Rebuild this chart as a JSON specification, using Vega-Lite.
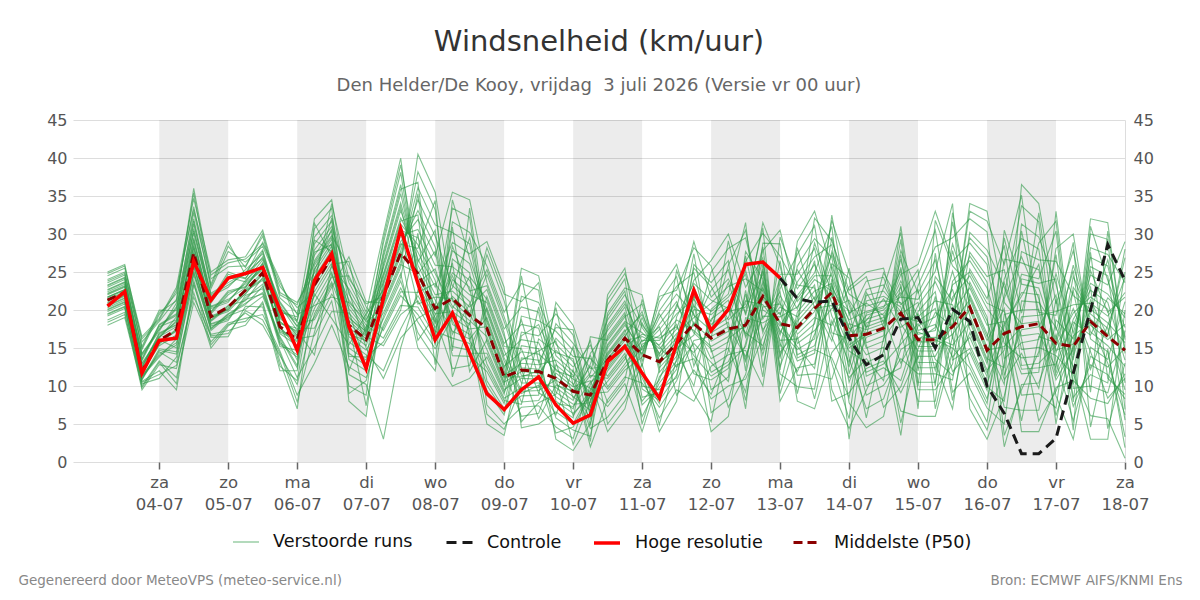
{
  "$schema": "https://vega.github.io/schema/vega-lite/v6.json",
  "width": 1052,
  "height": 342,
  "autosize": "none",
  "padding": {"left": 73, "top": 120, "right": 75, "bottom": 138},
  "background": "white",
  "title": {
    "text": "Windsnelheid (km/uur)",
    "subtitle": "Den Helder/De Kooy, vrijdag \u00a03 juli 2026 (Versie vr 00 uur)",
    "anchor": "middle",
    "font": "DejaVu Sans",
    "fontSize": 29,
    "fontWeight": "normal",
    "color": "#333333",
    "subtitleFont": "DejaVu Sans",
    "subtitleFontSize": 18,
    "subtitleColor": "#666666",
    "subtitlePadding": 20,
    "offset": 17
  },
  "config": {
    "view": {"stroke": null},
    "font": "DejaVu Sans",
    "legend": {
      "symbolType": "stroke",
      "symbolSize": 676,
      "labelFontSize": 17.6,
      "labelColor": "#111111",
      "labelFont": "DejaVu Sans",
      "labelOffset": 13,
      "padding": 0,
      "labelLimit": 400
    }
  },
  "datasets": {
    "banden": [
      {"van": "2026-07-04T00:00:00Z", "tot": "2026-07-05T00:00:00Z"},
      {"van": "2026-07-06T00:00:00Z", "tot": "2026-07-07T00:00:00Z"},
      {"van": "2026-07-08T00:00:00Z", "tot": "2026-07-09T00:00:00Z"},
      {"van": "2026-07-10T00:00:00Z", "tot": "2026-07-11T00:00:00Z"},
      {"van": "2026-07-12T00:00:00Z", "tot": "2026-07-13T00:00:00Z"},
      {"van": "2026-07-14T00:00:00Z", "tot": "2026-07-15T00:00:00Z"},
      {"van": "2026-07-16T00:00:00Z", "tot": "2026-07-17T00:00:00Z"}
    ],
    "runs": [
      {"t":"2026-07-03T06:00:00Z","hres":20.5,"p50":21.3,"m1":18.0,"m2":18.7,"m3":19.2,"m4":19.5,"m5":19.8,"m6":20.1,"m7":20.3,"m8":20.6,"m9":20.8,"m10":21.0,"m11":21.2,"m12":21.4,"m13":21.6,"m14":21.7,"m15":22.0,"m16":22.2,"m17":22.4,"m18":22.7,"m19":23.0,"m20":23.3,"m21":23.6,"m22":24.0,"m23":24.5,"m24":25.0,"m25":18.4,"m26":19.4,"m27":20.0,"m28":20.5,"m29":20.9,"m30":21.3,"m31":21.7,"m32":22.1,"m33":22.6,"m34":23.2,"m35":23.8,"m36":24.8},
      {"t":"2026-07-03T12:00:00Z","hres":22.4,"p50":22.3,"m1":19.0,"m2":19.7,"m3":20.2,"m4":20.5,"m5":20.8,"m6":21.1,"m7":21.3,"m8":21.6,"m9":21.8,"m10":22.0,"m11":22.2,"m12":22.4,"m13":22.6,"m14":22.7,"m15":23.0,"m16":23.2,"m17":23.4,"m18":23.7,"m19":24.0,"m20":24.3,"m21":24.6,"m22":25.0,"m23":25.5,"m24":26.0,"m25":19.4,"m26":20.4,"m27":21.0,"m28":21.5,"m29":21.9,"m30":22.3,"m31":22.7,"m32":23.1,"m33":23.6,"m34":24.2,"m35":24.8,"m36":25.8},
      {"t":"2026-07-03T18:00:00Z","hres":11.7,"p50":11.9,"m1":10.0,"m2":9.5,"m3":10.6,"m4":10.3,"m5":11.0,"m6":10.8,"m7":11.4,"m8":11.2,"m9":11.7,"m10":11.5,"m11":12.0,"m12":11.8,"m13":12.5,"m14":12.2,"m15":13.0,"m16":12.7,"m17":13.6,"m18":13.3,"m19":14.3,"m20":14.0,"m21":15.2,"m22":14.8,"m23":16.5,"m24":15.8,"m25":10.5,"m26":9.8,"m27":11.3,"m28":10.9,"m29":11.9,"m30":11.6,"m31":12.9,"m32":12.4,"m33":14.2,"m34":13.5,"m35":16.2,"m36":15.0},
      {"t":"2026-07-04T00:00:00Z","hres":16.0,"p50":16.0,"m1":13.3,"m2":12.8,"m3":12.0,"m4":11.0,"m5":14.9,"m6":14.5,"m7":14.2,"m8":13.8,"m9":16.1,"m10":15.9,"m11":15.6,"m12":15.3,"m13":17.0,"m14":16.7,"m15":16.5,"m16":16.3,"m17":18.1,"m18":17.8,"m19":17.5,"m20":17.2,"m21":20.0,"m22":19.4,"m23":18.9,"m24":18.5,"m25":11.5,"m26":13.1,"m27":14.0,"m28":14.7,"m29":15.5,"m30":16.0,"m31":16.4,"m32":16.9,"m33":17.4,"m34":18.0,"m35":18.7,"m36":19.7},
      {"t":"2026-07-04T06:00:00Z","hres":16.3,"p50":17.4,"m1":11.1,"m2":12.3,"m3":9.5,"m4":13.8,"m5":14.5,"m6":13.1,"m7":15.7,"m8":16.2,"m9":15.0,"m10":17.2,"m11":17.5,"m12":16.7,"m13":18.1,"m14":18.4,"m15":17.8,"m16":19.1,"m17":19.5,"m18":18.7,"m19":20.4,"m20":20.9,"m21":19.9,"m22":22.2,"m23":23.0,"m24":21.4,"m25":12.7,"m26":10.3,"m27":15.4,"m28":14.2,"m29":17.4,"m30":16.5,"m31":18.6,"m32":18.0,"m33":20.2,"m34":19.3,"m35":22.6,"m36":21.2},
      {"t":"2026-07-04T12:00:00Z","hres":26.4,"p50":27.5,"m1":21.0,"m2":22.3,"m3":23.3,"m4":23.9,"m5":24.6,"m6":25.1,"m7":25.6,"m8":26.1,"m9":26.5,"m10":26.9,"m11":27.3,"m12":27.7,"m13":28.1,"m14":28.5,"m15":29.0,"m16":29.5,"m17":30.1,"m18":30.7,"m19":31.3,"m20":32.0,"m21":32.8,"m22":33.6,"m23":34.7,"m24":36.0,"m25":21.7,"m26":23.6,"m27":24.9,"m28":25.9,"m29":26.7,"m30":27.5,"m31":28.3,"m32":29.3,"m33":30.4,"m34":31.7,"m35":33.2,"m36":35.4},
      {"t":"2026-07-04T18:00:00Z","hres":21.3,"p50":19.1,"m1":15.8,"m2":15.0,"m3":16.8,"m4":16.4,"m5":17.6,"m6":17.3,"m7":18.2,"m8":17.9,"m9":18.7,"m10":18.5,"m11":19.2,"m12":19.0,"m13":19.8,"m14":19.5,"m15":20.5,"m16":20.2,"m17":21.3,"m18":20.9,"m19":22.2,"m20":21.8,"m21":23.4,"m22":22.8,"m23":25.0,"m24":24.1,"m25":16.6,"m26":15.4,"m27":18.1,"m28":17.5,"m29":19.1,"m30":18.6,"m31":20.4,"m32":19.7,"m33":22.0,"m34":21.1,"m35":24.6,"m36":23.1},
      {"t":"2026-07-05T00:00:00Z","hres":24.2,"p50":20.4,"m1":18.3,"m2":17.9,"m3":17.3,"m4":16.5,"m5":19.5,"m6":19.2,"m7":19.0,"m8":18.6,"m9":20.6,"m10":20.3,"m11":20.1,"m12":19.8,"m13":22.5,"m14":22.0,"m15":21.4,"m16":21.0,"m17":25.0,"m18":24.3,"m19":23.6,"m20":23.0,"m21":29.0,"m22":27.7,"m23":26.6,"m24":25.7,"m25":16.9,"m26":18.1,"m27":18.8,"m28":19.4,"m29":20.0,"m30":20.5,"m31":21.2,"m32":22.3,"m33":23.3,"m34":24.7,"m35":26.2,"m36":28.4},
      {"t":"2026-07-05T06:00:00Z","hres":24.8,"p50":22.6,"m1":18.9,"m2":19.6,"m3":18.0,"m4":20.5,"m5":20.9,"m6":20.1,"m7":21.6,"m8":21.9,"m9":21.2,"m10":22.5,"m11":22.7,"m12":22.2,"m13":23.1,"m14":23.4,"m15":22.9,"m16":23.9,"m17":24.2,"m18":23.7,"m19":24.9,"m20":25.3,"m21":24.6,"m22":26.3,"m23":27.0,"m24":25.8,"m25":19.9,"m26":18.5,"m27":21.4,"m28":20.7,"m29":22.6,"m30":22.1,"m31":23.6,"m32":23.0,"m33":24.8,"m34":24.1,"m35":26.7,"m36":25.6},
      {"t":"2026-07-05T12:00:00Z","hres":25.6,"p50":24.9,"m1":19.4,"m2":18.0,"m3":21.1,"m4":20.4,"m5":22.3,"m6":21.8,"m7":23.4,"m8":22.8,"m9":24.3,"m10":23.9,"m11":25.0,"m12":24.7,"m13":25.6,"m14":25.3,"m15":26.2,"m16":25.9,"m17":27.0,"m18":26.6,"m19":27.9,"m20":27.4,"m21":28.9,"m22":28.4,"m23":30.5,"m24":29.7,"m25":18.7,"m26":20.8,"m27":22.1,"m28":23.1,"m29":24.1,"m30":24.9,"m31":25.5,"m32":26.1,"m33":26.8,"m34":27.7,"m35":28.7,"m36":30.1},
      {"t":"2026-07-05T18:00:00Z","hres":20.0,"p50":17.8,"m1":14.6,"m2":14.0,"m3":13.2,"m4":12.0,"m5":16.5,"m6":16.1,"m7":15.7,"m8":15.2,"m9":17.9,"m10":17.6,"m11":17.3,"m12":16.9,"m13":19.3,"m14":18.9,"m15":18.5,"m16":18.2,"m17":21.1,"m18":20.6,"m19":20.1,"m20":19.7,"m21":24.0,"m22":23.1,"m23":22.3,"m24":21.6,"m25":14.3,"m26":12.6,"m27":16.3,"m28":15.5,"m29":17.8,"m30":17.1,"m31":19.1,"m32":18.4,"m33":20.9,"m34":19.9,"m35":23.6,"m36":22.0},
      {"t":"2026-07-06T00:00:00Z","hres":14.7,"p50":16.1,"m1":8.8,"m2":10.2,"m3":7.0,"m4":12.0,"m5":12.7,"m6":11.1,"m7":14.1,"m8":14.7,"m9":13.4,"m10":15.8,"m11":16.2,"m12":15.3,"m13":16.7,"m14":17.0,"m15":16.4,"m16":17.6,"m17":17.9,"m18":17.3,"m19":18.7,"m20":19.1,"m21":18.3,"m22":20.3,"m23":21.0,"m24":19.6,"m25":7.9,"m26":10.7,"m27":12.4,"m28":13.8,"m29":15.0,"m30":16.0,"m31":16.6,"m32":17.2,"m33":17.8,"m34":18.5,"m35":19.4,"m36":20.7},
      {"t":"2026-07-06T06:00:00Z","hres":23.9,"p50":23.3,"m1":13.0,"m2":19.5,"m3":23.0,"m4":25.4,"m5":28.7,"m6":15.1,"m7":20.2,"m8":23.5,"m9":25.9,"m10":29.6,"m11":16.6,"m12":21.0,"m13":23.9,"m14":26.5,"m15":30.7,"m16":17.6,"m17":21.8,"m18":24.3,"m19":27.2,"m20":32.0,"m21":18.7,"m22":22.4,"m23":24.9,"m24":27.9,"m25":17.1,"m26":24.1,"m27":31.4,"m28":22.1,"m29":27.6,"m30":19.1,"m31":25.2,"m32":14.1,"m33":23.3,"m34":29.2,"m35":20.6,"m36":26.2},
      {"t":"2026-07-06T12:00:00Z","hres":27.4,"p50":27.0,"m1":18.0,"m2":23.7,"m3":26.7,"m4":28.8,"m5":31.7,"m6":19.8,"m7":24.3,"m8":27.2,"m9":29.3,"m10":32.4,"m11":21.2,"m12":25.0,"m13":27.5,"m14":29.8,"m15":33.4,"m16":22.1,"m17":25.7,"m18":27.9,"m19":30.4,"m20":34.5,"m21":23.0,"m22":26.2,"m23":28.4,"m24":31.0,"m25":24.7,"m26":32.1,"m27":27.0,"m28":18.9,"m29":28.6,"m30":23.4,"m31":30.7,"m32":26.0,"m33":34.0,"m34":27.7,"m35":21.7,"m36":29.6},
      {"t":"2026-07-06T18:00:00Z","hres":17.8,"p50":18.0,"m1":12.5,"m2":17.7,"m3":21.3,"m4":8.0,"m5":15.8,"m6":19.6,"m7":24.5,"m8":13.5,"m9":18.2,"m10":22.1,"m11":10.0,"m12":16.5,"m13":20.2,"m14":25.7,"m15":14.3,"m16":18.6,"m17":22.8,"m18":11.5,"m19":17.1,"m20":20.7,"m21":27.0,"m22":15.0,"m23":19.1,"m24":23.6,"m25":18.9,"m26":18.0,"m27":16.8,"m28":15.4,"m29":13.9,"m30":12.0,"m31":9.0,"m32":26.4,"m33":24.1,"m34":22.5,"m35":21.0,"m36":19.9},
      {"t":"2026-07-07T00:00:00Z","hres":12.3,"p50":16.1,"m1":11.1,"m2":15.8,"m3":18.0,"m4":6.0,"m5":14.1,"m6":17.0,"m7":19.7,"m8":12.0,"m9":16.2,"m10":18.4,"m11":8.8,"m12":14.7,"m13":17.3,"m14":20.4,"m15":12.7,"m16":16.5,"m17":18.8,"m18":10.2,"m19":15.3,"m20":17.6,"m21":21.1,"m22":13.4,"m23":16.7,"m24":19.2,"m25":17.2,"m26":7.4,"m27":16.0,"m28":19.5,"m29":13.8,"m30":17.8,"m31":10.7,"m32":16.6,"m33":20.8,"m34":15.0,"m35":18.6,"m36":12.4},
      {"t":"2026-07-07T06:00:00Z","hres":21.5,"p50":21.8,"m1":18.1,"m2":24.3,"m3":16.3,"m4":23.3,"m5":12.0,"m6":22.4,"m7":30.0,"m8":21.5,"m9":27.7,"m10":20.3,"m11":26.2,"m12":18.8,"m13":24.8,"m14":17.3,"m15":23.8,"m16":15.3,"m17":22.8,"m18":3.0,"m19":22.0,"m20":28.8,"m21":20.9,"m22":26.9,"m23":19.6,"m24":25.5,"m25":25.9,"m26":20.6,"m27":29.4,"m28":22.6,"m29":15.8,"m30":24.6,"m31":19.2,"m32":27.3,"m33":21.8,"m34":11.0,"m35":23.6,"m36":17.7},
      {"t":"2026-07-07T12:00:00Z","hres":30.7,"p50":27.5,"m1":22.9,"m2":31.3,"m3":20.6,"m4":29.8,"m5":17.5,"m6":28.4,"m7":40.0,"m8":27.1,"m9":36.5,"m10":25.6,"m11":34.1,"m12":23.8,"m13":32.1,"m14":21.9,"m15":30.5,"m16":19.4,"m17":29.0,"m18":15.0,"m19":27.8,"m20":38.1,"m21":26.4,"m22":35.3,"m23":24.8,"m24":33.1,"m25":33.6,"m26":26.0,"m27":39.1,"m28":28.7,"m29":20.0,"m30":31.7,"m31":24.3,"m32":35.9,"m33":27.5,"m34":16.3,"m35":30.2,"m36":22.4},
      {"t":"2026-07-07T18:00:00Z","hres":23.5,"p50":24.8,"m1":18.4,"m2":28.6,"m3":20.4,"m4":30.6,"m5":21.9,"m6":33.1,"m7":23.3,"m8":36.1,"m9":24.5,"m10":40.5,"m11":25.9,"m12":17.0,"m13":27.6,"m14":19.4,"m15":29.5,"m16":21.2,"m17":31.9,"m18":22.6,"m19":34.5,"m20":23.9,"m21":38.2,"m22":25.1,"m23":15.0,"m24":26.7,"m25":23.6,"m26":24.8,"m27":26.3,"m28":28.1,"m29":30.1,"m30":32.5,"m31":35.3,"m32":36.8,"m33":16.0,"m34":18.9,"m35":20.8,"m36":22.3},
      {"t":"2026-07-08T00:00:00Z","hres":16.1,"p50":20.2,"m1":14.9,"m2":23.9,"m3":16.5,"m4":25.9,"m5":17.7,"m6":28.3,"m7":19.0,"m8":31.2,"m9":20.0,"m10":35.5,"m11":21.3,"m12":13.6,"m13":23.0,"m14":15.7,"m15":24.8,"m16":17.2,"m17":27.1,"m18":18.4,"m19":29.7,"m20":19.5,"m21":33.2,"m22":20.5,"m23":12.0,"m24":22.0,"m25":25.4,"m26":27.7,"m27":30.5,"m28":34.4,"m29":12.8,"m30":15.3,"m31":16.9,"m32":18.1,"m33":19.3,"m34":20.3,"m35":21.7,"m36":23.5},
      {"t":"2026-07-08T06:00:00Z","hres":19.6,"p50":21.5,"m1":19.0,"m2":14.0,"m3":31.6,"m4":25.7,"m5":21.8,"m6":18.1,"m7":12.3,"m8":30.2,"m9":24.9,"m10":21.2,"m11":17.2,"m12":10.0,"m13":28.9,"m14":24.0,"m15":20.5,"m16":16.3,"m17":35.5,"m18":27.8,"m19":23.2,"m20":19.8,"m21":15.2,"m22":33.4,"m23":26.7,"m24":22.5,"m25":18.6,"m26":16.8,"m27":14.6,"m28":11.2,"m29":34.5,"m30":30.9,"m31":28.4,"m32":26.2,"m33":24.5,"m34":22.9,"m35":21.5,"m36":20.2},
      {"t":"2026-07-08T12:00:00Z","hres":14.3,"p50":19.3,"m1":17.5,"m2":13.9,"m3":30.2,"m4":23.9,"m5":19.6,"m6":16.8,"m7":12.7,"m8":28.7,"m9":23.0,"m10":19.1,"m11":16.2,"m12":11.0,"m13":27.4,"m14":22.0,"m15":18.6,"m16":15.6,"m17":34.5,"m18":26.1,"m19":21.1,"m20":18.1,"m21":14.7,"m22":32.2,"m23":24.9,"m24":20.4,"m25":14.3,"m26":20.8,"m27":33.4,"m28":18.4,"m29":26.8,"m30":15.9,"m31":22.5,"m32":11.9,"m33":19.4,"m34":29.5,"m35":17.2,"m36":24.4},
      {"t":"2026-07-08T18:00:00Z","hres":9.0,"p50":17.6,"m1":17.8,"m2":11.9,"m3":25.8,"m4":19.7,"m5":14.8,"m6":5.0,"m7":21.8,"m8":17.2,"m9":10.7,"m10":24.7,"m11":19.0,"m12":13.8,"m13":29.0,"m14":21.0,"m15":16.5,"m16":9.4,"m17":23.6,"m18":18.4,"m19":12.9,"m20":27.3,"m21":20.3,"m22":15.7,"m23":7.5,"m24":22.7,"m25":14.3,"m26":25.3,"m27":17.5,"m28":6.3,"m29":20.0,"m30":12.4,"m31":23.2,"m32":16.1,"m33":28.2,"m34":18.7,"m35":10.1,"m36":21.4},
      {"t":"2026-07-09T00:00:00Z","hres":6.9,"p50":11.2,"m1":11.4,"m2":7.7,"m3":19.7,"m4":13.3,"m5":9.5,"m6":3.5,"m7":15.6,"m8":11.0,"m9":7.0,"m10":18.5,"m11":12.6,"m12":8.9,"m13":23.0,"m14":14.7,"m15":10.5,"m16":6.2,"m17":17.5,"m18":12.0,"m19":8.4,"m20":21.2,"m21":14.0,"m22":10.0,"m23":5.0,"m24":16.5,"m25":9.2,"m26":19.1,"m27":11.2,"m28":4.3,"m29":13.7,"m30":8.1,"m31":17.0,"m32":10.3,"m33":22.1,"m34":12.3,"m35":6.6,"m36":15.2},
      {"t":"2026-07-09T06:00:00Z","hres":9.5,"p50":12.1,"m1":13.0,"m2":17.1,"m3":23.5,"m4":7.9,"m5":11.0,"m6":13.7,"m7":18.1,"m8":25.5,"m9":8.7,"m10":11.4,"m11":14.5,"m12":19.2,"m13":4.5,"m14":9.3,"m15":11.9,"m16":15.3,"m17":20.4,"m18":6.0,"m19":9.8,"m20":12.4,"m21":16.1,"m22":21.8,"m23":7.2,"m24":10.4,"m25":13.4,"m26":12.2,"m27":11.2,"m28":10.1,"m29":9.0,"m30":7.6,"m31":5.3,"m32":24.5,"m33":21.1,"m34":18.7,"m35":16.6,"m36":14.9},
      {"t":"2026-07-09T12:00:00Z","hres":11.2,"p50":11.9,"m1":12.8,"m2":16.6,"m3":22.6,"m4":8.1,"m5":10.9,"m6":13.4,"m7":17.6,"m8":24.5,"m9":8.8,"m10":11.3,"m11":14.2,"m12":18.6,"m13":5.0,"m14":9.4,"m15":11.7,"m16":14.9,"m17":19.7,"m18":6.4,"m19":9.8,"m20":12.2,"m21":15.7,"m22":21.0,"m23":7.4,"m24":10.4,"m25":14.6,"m26":5.7,"m27":12.0,"m28":20.4,"m29":10.1,"m30":16.2,"m31":7.8,"m32":13.1,"m33":23.6,"m34":11.1,"m35":18.1,"m36":9.1},
      {"t":"2026-07-09T18:00:00Z","hres":7.5,"p50":11.0,"m1":13.4,"m2":19.5,"m3":8.0,"m4":11.7,"m5":16.3,"m6":5.8,"m7":10.3,"m8":14.0,"m9":21.0,"m10":8.6,"m11":12.2,"m12":17.2,"m13":6.6,"m14":10.8,"m15":14.7,"m16":3.0,"m17":9.2,"m18":12.8,"m19":18.2,"m20":7.4,"m21":11.2,"m22":15.5,"m23":4.6,"m24":9.8,"m25":15.9,"m26":10.1,"m27":20.3,"m28":12.0,"m29":6.2,"m30":14.4,"m31":8.9,"m32":17.7,"m33":11.0,"m34":3.8,"m35":13.1,"m36":7.7},
      {"t":"2026-07-10T00:00:00Z","hres":5.1,"p50":9.3,"m1":11.4,"m2":16.7,"m3":6.4,"m4":9.9,"m5":13.9,"m6":4.2,"m7":8.6,"m8":11.9,"m9":18.0,"m10":7.0,"m11":10.3,"m12":14.7,"m13":5.0,"m14":9.1,"m15":12.5,"m16":1.5,"m17":7.6,"m18":10.9,"m19":15.6,"m20":5.8,"m21":9.5,"m22":13.2,"m23":3.1,"m24":8.1,"m25":8.4,"m26":9.3,"m27":10.1,"m28":11.2,"m29":12.2,"m30":13.6,"m31":15.2,"m32":17.4,"m33":2.3,"m34":4.6,"m35":6.1,"m36":7.3},
      {"t":"2026-07-10T06:00:00Z","hres":6.2,"p50":8.8,"m1":2.0,"m2":6.3,"m3":8.6,"m4":10.7,"m5":13.6,"m6":3.4,"m7":6.8,"m8":9.0,"m9":11.1,"m10":14.3,"m11":4.4,"m12":7.3,"m13":9.3,"m14":11.7,"m15":15.4,"m16":5.1,"m17":7.8,"m18":9.7,"m19":12.3,"m20":16.5,"m21":5.7,"m22":8.2,"m23":10.2,"m24":12.9,"m25":11.4,"m26":12.6,"m27":14.0,"m28":16.0,"m29":2.7,"m30":4.8,"m31":6.0,"m32":7.1,"m33":8.0,"m34":8.8,"m35":9.5,"m36":10.5},
      {"t":"2026-07-10T12:00:00Z","hres":13.2,"p50":13.4,"m1":8.2,"m2":13.1,"m3":16.6,"m4":4.0,"m5":11.3,"m6":15.0,"m7":19.6,"m8":9.2,"m9":13.6,"m10":17.3,"m11":5.9,"m12":12.0,"m13":15.5,"m14":20.7,"m15":9.9,"m16":14.0,"m17":18.0,"m18":7.3,"m19":12.6,"m20":16.0,"m21":22.0,"m22":10.6,"m23":14.4,"m24":18.7,"m25":11.0,"m26":9.6,"m27":7.8,"m28":5.0,"m29":21.4,"m30":19.2,"m31":17.7,"m32":16.3,"m33":15.3,"m34":14.2,"m35":13.4,"m36":12.3},
      {"t":"2026-07-10T18:00:00Z","hres":15.2,"p50":16.3,"m1":11.2,"m2":16.0,"m3":19.7,"m4":7.0,"m5":14.3,"m6":18.0,"m7":22.9,"m8":12.1,"m9":16.5,"m10":20.4,"m11":8.9,"m12":14.9,"m13":18.5,"m14":24.1,"m15":12.9,"m16":16.9,"m17":21.2,"m18":10.3,"m19":15.5,"m20":19.1,"m21":25.5,"m22":13.5,"m23":17.4,"m24":22.0,"m25":13.9,"m26":12.5,"m27":10.8,"m28":8.0,"m29":24.8,"m30":22.5,"m31":20.8,"m32":19.4,"m33":18.3,"m34":17.2,"m35":16.3,"m36":15.2},
      {"t":"2026-07-11T00:00:00Z","hres":11.7,"p50":14.1,"m1":10.4,"m2":16.5,"m3":8.5,"m4":15.5,"m5":6.0,"m6":14.7,"m7":22.0,"m8":13.8,"m9":19.8,"m10":12.6,"m11":18.3,"m12":11.1,"m13":17.0,"m14":9.6,"m15":16.0,"m16":7.5,"m17":15.1,"m18":4.0,"m19":14.3,"m20":20.8,"m21":13.2,"m22":19.0,"m23":11.9,"m24":17.7,"m25":8.0,"m26":14.9,"m27":21.4,"m28":12.9,"m29":18.0,"m30":10.0,"m31":15.8,"m32":5.0,"m33":14.1,"m34":19.4,"m35":11.5,"m36":16.8},
      {"t":"2026-07-11T06:00:00Z","hres":8.4,"p50":13.2,"m1":7.2,"m2":15.4,"m3":9.1,"m4":16.6,"m5":10.4,"m6":18.1,"m7":11.8,"m8":19.9,"m9":12.9,"m10":22.5,"m11":13.9,"m12":5.8,"m13":14.9,"m14":8.1,"m15":16.0,"m16":9.8,"m17":17.4,"m18":11.2,"m19":19.0,"m20":12.4,"m21":21.1,"m22":13.4,"m23":4.0,"m24":14.3,"m25":10.8,"m26":19.5,"m27":13.2,"m28":4.9,"m29":15.2,"m30":9.5,"m31":17.8,"m32":12.1,"m33":21.8,"m34":14.1,"m35":7.7,"m36":16.3},
      {"t":"2026-07-11T12:00:00Z","hres":15.6,"p50":15.6,"m1":10.7,"m2":18.1,"m3":12.2,"m4":19.5,"m5":13.3,"m6":21.1,"m7":14.5,"m8":23.1,"m9":15.4,"m10":26.0,"m11":16.3,"m12":9.5,"m13":17.5,"m14":11.4,"m15":18.7,"m16":12.8,"m17":20.3,"m18":13.9,"m19":22.1,"m20":14.9,"m21":24.4,"m22":15.8,"m23":8.0,"m24":16.9,"m25":16.6,"m26":15.6,"m27":14.7,"m28":13.6,"m29":12.5,"m30":11.1,"m31":8.8,"m32":25.2,"m33":22.6,"m34":20.7,"m35":19.1,"m36":17.8},
      {"t":"2026-07-11T18:00:00Z","hres":22.6,"p50":18.2,"m1":16.0,"m2":11.6,"m3":26.0,"m4":21.4,"m5":18.4,"m6":15.1,"m7":10.0,"m8":24.9,"m9":20.8,"m10":17.9,"m11":14.4,"m12":8.0,"m13":23.9,"m14":20.1,"m15":17.3,"m16":13.6,"m17":29.0,"m18":23.1,"m19":19.5,"m20":16.7,"m21":12.6,"m22":27.4,"m23":22.2,"m24":19.0,"m25":20.5,"m26":9.0,"m27":18.2,"m28":25.5,"m29":15.6,"m30":21.8,"m31":12.1,"m32":19.3,"m33":28.2,"m34":17.0,"m35":23.5,"m36":14.0},
      {"t":"2026-07-12T00:00:00Z","hres":17.3,"p50":16.3,"m1":16.5,"m2":10.8,"m3":23.6,"m4":18.1,"m5":13.6,"m6":4.0,"m7":20.1,"m8":15.9,"m9":9.5,"m10":22.6,"m11":17.5,"m12":12.6,"m13":26.5,"m14":19.4,"m15":15.2,"m16":8.3,"m17":21.7,"m18":17.0,"m19":11.8,"m20":25.0,"m21":18.8,"m22":14.5,"m23":6.5,"m24":20.9,"m25":18.5,"m26":5.3,"m27":16.2,"m28":23.1,"m29":13.1,"m30":19.8,"m31":8.9,"m32":17.3,"m33":25.8,"m34":14.9,"m35":21.3,"m36":11.3},
      {"t":"2026-07-12T06:00:00Z","hres":20.1,"p50":17.5,"m1":17.8,"m2":12.3,"m3":26.5,"m4":19.8,"m5":15.0,"m6":6.0,"m7":22.1,"m8":17.2,"m9":11.2,"m10":25.3,"m11":19.0,"m12":14.1,"m13":30.0,"m14":21.3,"m15":16.5,"m16":10.0,"m17":24.1,"m18":18.4,"m19":13.2,"m20":28.1,"m21":20.5,"m22":15.8,"m23":8.3,"m24":23.1,"m25":23.6,"m26":16.2,"m27":29.1,"m28":18.7,"m29":10.6,"m30":21.7,"m31":14.6,"m32":25.9,"m33":17.5,"m34":7.2,"m35":20.2,"m36":12.8},
      {"t":"2026-07-12T12:00:00Z","hres":26.0,"p50":18.0,"m1":13.9,"m2":22.1,"m3":12.0,"m4":20.4,"m5":9.2,"m6":19.0,"m7":31.5,"m8":17.7,"m9":27.7,"m10":16.4,"m11":25.2,"m12":14.7,"m13":23.0,"m14":13.1,"m15":21.2,"m16":10.9,"m17":19.6,"m18":7.0,"m19":18.3,"m20":29.5,"m21":17.0,"m22":26.4,"m23":15.6,"m24":24.1,"m25":16.7,"m26":18.0,"m27":19.3,"m28":20.8,"m29":22.6,"m30":24.7,"m31":27.1,"m32":30.5,"m33":8.1,"m34":11.5,"m35":13.5,"m36":15.2},
      {"t":"2026-07-12T18:00:00Z","hres":26.3,"p50":21.8,"m1":19.2,"m2":14.1,"m3":28.8,"m4":24.7,"m5":22.0,"m6":18.3,"m7":12.4,"m8":27.8,"m9":24.1,"m10":21.5,"m11":17.4,"m12":10.0,"m13":26.9,"m14":23.6,"m15":20.7,"m16":16.5,"m17":31.5,"m18":26.2,"m19":23.0,"m20":20.0,"m21":15.3,"m22":30.1,"m23":25.4,"m24":22.5,"m25":25.1,"m26":26.6,"m27":28.3,"m28":30.8,"m29":11.2,"m30":14.7,"m31":17.0,"m32":18.8,"m33":20.4,"m34":21.8,"m35":22.8,"m36":23.9},
      {"t":"2026-07-13T00:00:00Z","hres":24.2,"ctrl":24.2,"p50":18.2,"m1":19.1,"m2":22.8,"m3":28.7,"m4":12.6,"m5":16.7,"m6":19.7,"m7":23.7,"m8":30.5,"m9":13.6,"m10":17.3,"m11":20.4,"m12":24.7,"m13":8.0,"m14":14.4,"m15":17.9,"m16":21.2,"m17":25.8,"m18":10.0,"m19":15.1,"m20":18.5,"m21":21.9,"m22":27.1,"m23":11.6,"m24":16.0,"m25":15.6,"m26":14.0,"m27":12.1,"m28":9.0,"m29":29.6,"m30":26.5,"m31":24.2,"m32":22.4,"m33":20.8,"m34":19.4,"m35":18.2,"m36":17.0},
      {"t":"2026-07-13T06:00:00Z","ctrl":21.5,"p50":17.7,"m1":20.4,"m2":27.3,"m3":14.1,"m4":18.5,"m5":23.7,"m6":11.4,"m7":16.8,"m8":21.1,"m9":29.0,"m10":14.8,"m11":19.1,"m12":24.7,"m13":12.4,"m14":17.4,"m15":21.9,"m16":8.0,"m17":15.6,"m18":19.7,"m19":25.8,"m20":13.3,"m21":17.9,"m22":22.8,"m23":9.9,"m24":16.2,"m25":11.9,"m26":18.8,"m27":28.2,"m28":16.5,"m29":23.3,"m30":13.7,"m31":20.1,"m32":9.0,"m33":17.7,"m34":25.3,"m35":15.2,"m36":21.5},
      {"t":"2026-07-13T12:00:00Z","ctrl":21.0,"p50":20.2,"m1":23.3,"m2":31.1,"m3":15.3,"m4":21.1,"m5":27.0,"m6":11.6,"m7":19.0,"m8":24.0,"m9":33.0,"m10":16.2,"m11":21.7,"m12":28.1,"m13":12.9,"m14":19.8,"m15":24.9,"m16":7.0,"m17":17.3,"m18":22.5,"m19":29.4,"m20":14.3,"m21":20.5,"m22":26.0,"m23":9.6,"m24":18.2,"m25":16.8,"m26":28.8,"m27":20.2,"m28":8.3,"m29":22.9,"m30":14.8,"m31":26.5,"m32":18.6,"m33":32.1,"m34":21.4,"m35":12.3,"m36":24.5},
      {"t":"2026-07-13T18:00:00Z","ctrl":21.2,"p50":22.3,"m1":8.0,"m2":17.0,"m3":21.9,"m4":24.8,"m5":28.6,"m6":10.9,"m7":18.0,"m8":22.5,"m9":25.4,"m10":29.6,"m11":13.0,"m12":19.2,"m13":23.0,"m14":26.1,"m15":31.0,"m16":14.4,"m17":20.2,"m18":23.5,"m19":26.9,"m20":32.5,"m21":15.9,"m22":21.0,"m23":24.1,"m24":27.7,"m25":23.3,"m26":22.2,"m27":20.6,"m28":18.6,"m29":16.5,"m30":13.7,"m31":9.5,"m32":31.8,"m33":29.1,"m34":27.3,"m35":25.8,"m36":24.5},
      {"t":"2026-07-14T00:00:00Z","ctrl":16.3,"p50":16.6,"m1":9.1,"m2":16.2,"m3":19.9,"m4":3.0,"m5":13.6,"m6":18.2,"m7":23.0,"m8":10.5,"m9":16.8,"m10":20.6,"m11":5.7,"m12":14.6,"m13":18.7,"m14":24.2,"m15":11.6,"m16":17.2,"m17":21.3,"m18":7.8,"m19":15.4,"m20":19.3,"m21":25.5,"m22":12.5,"m23":17.7,"m24":22.1,"m25":17.5,"m26":16.5,"m27":15.0,"m28":13.1,"m29":11.1,"m30":8.5,"m31":4.4,"m32":24.9,"m33":22.6,"m34":21.0,"m35":19.6,"m36":18.5},
      {"t":"2026-07-14T06:00:00Z","ctrl":12.8,"p50":16.8,"m1":12.3,"m2":19.3,"m3":10.0,"m4":18.3,"m5":7.0,"m6":17.4,"m7":25.0,"m8":16.4,"m9":22.7,"m10":15.0,"m11":21.2,"m12":13.1,"m13":19.8,"m14":11.3,"m15":18.8,"m16":8.8,"m17":17.8,"m18":4.5,"m19":17.0,"m20":23.8,"m21":15.7,"m22":21.9,"m23":14.1,"m24":20.5,"m25":18.6,"m26":5.8,"m27":16.7,"m28":22.3,"m29":13.6,"m30":19.6,"m31":9.4,"m32":17.6,"m33":24.4,"m34":15.4,"m35":20.9,"m36":11.8},
      {"t":"2026-07-14T12:00:00Z","ctrl":14.1,"p50":17.6,"m1":13.3,"m2":20.0,"m3":11.2,"m4":19.0,"m5":8.3,"m6":18.2,"m7":25.5,"m8":17.3,"m9":23.3,"m10":15.9,"m11":21.8,"m12":14.1,"m13":20.5,"m14":12.4,"m15":19.5,"m16":10.1,"m17":18.6,"m18":6.0,"m19":17.8,"m20":24.3,"m21":16.6,"m22":22.5,"m23":15.1,"m24":21.2,"m25":21.5,"m26":16.3,"m27":24.9,"m28":18.4,"m29":10.7,"m30":20.3,"m31":14.6,"m32":22.9,"m33":17.6,"m34":7.2,"m35":19.3,"m36":12.9},
      {"t":"2026-07-14T18:00:00Z","ctrl":18.8,"p50":19.6,"m1":9.1,"m2":22.3,"m3":12.4,"m4":23.8,"m5":14.8,"m6":25.6,"m7":17.2,"m8":27.8,"m9":19.1,"m10":31.0,"m11":20.4,"m12":6.7,"m13":21.7,"m14":10.7,"m15":23.0,"m16":13.6,"m17":24.7,"m18":16.1,"m19":26.7,"m20":18.2,"m21":29.3,"m22":19.8,"m23":3.5,"m24":21.0,"m25":17.7,"m26":19.5,"m27":20.7,"m28":22.0,"m29":23.4,"m30":25.2,"m31":27.3,"m32":30.2,"m33":5.1,"m34":9.9,"m35":13.0,"m36":15.5},
      {"t":"2026-07-15T00:00:00Z","ctrl":19.0,"p50":16.1,"m1":13.9,"m2":9.5,"m3":23.2,"m4":19.1,"m5":16.3,"m6":13.1,"m7":8.0,"m8":22.2,"m9":18.5,"m10":15.8,"m11":12.4,"m12":6.0,"m13":21.4,"m14":17.9,"m15":15.2,"m16":11.6,"m17":26.0,"m18":20.6,"m19":17.3,"m20":14.6,"m21":10.5,"m22":24.5,"m23":19.8,"m24":16.8,"m25":19.5,"m26":21.0,"m27":22.7,"m28":25.3,"m29":7.0,"m30":10.0,"m31":12.0,"m32":13.5,"m33":14.9,"m34":16.1,"m35":17.1,"m36":18.2},
      {"t":"2026-07-15T06:00:00Z","ctrl":15.0,"p50":16.1,"m1":13.9,"m2":9.5,"m3":28.3,"m4":21.2,"m5":16.4,"m6":13.1,"m7":8.0,"m8":26.6,"m9":20.2,"m10":15.8,"m11":12.4,"m12":6.0,"m13":25.1,"m14":19.1,"m15":15.2,"m16":11.6,"m17":33.0,"m18":23.7,"m19":18.1,"m20":14.6,"m21":10.5,"m22":30.5,"m23":22.4,"m24":17.3,"m25":13.5,"m26":12.0,"m27":10.0,"m28":7.0,"m29":31.8,"m30":27.5,"m31":24.4,"m32":21.8,"m33":19.7,"m34":17.7,"m35":16.1,"m36":14.9},
      {"t":"2026-07-15T12:00:00Z","ctrl":20.1,"p50":17.8,"m1":18.1,"m2":12.9,"m3":29.5,"m4":20.7,"m5":15.4,"m6":7.0,"m7":23.8,"m8":17.5,"m9":11.9,"m10":27.8,"m11":19.7,"m12":14.6,"m13":34.0,"m14":22.7,"m15":16.8,"m16":10.8,"m17":26.4,"m18":18.9,"m19":13.8,"m20":31.6,"m21":21.7,"m22":16.2,"m23":9.2,"m24":25.1,"m25":11.4,"m26":19.3,"m27":32.8,"m28":16.5,"m29":25.8,"m30":13.4,"m31":21.2,"m32":8.1,"m33":17.8,"m34":28.7,"m35":15.0,"m36":23.3},
      {"t":"2026-07-15T18:00:00Z","ctrl":18.5,"p50":20.4,"m1":21.4,"m2":25.4,"m3":32.0,"m4":13.0,"m5":18.4,"m6":22.0,"m7":26.5,"m8":34.0,"m9":14.4,"m10":19.2,"m11":22.9,"m12":27.6,"m13":7.0,"m14":15.4,"m15":20.0,"m16":23.7,"m17":28.8,"m18":9.7,"m19":16.4,"m20":20.7,"m21":24.5,"m22":30.2,"m23":11.7,"m24":17.5,"m25":17.0,"m26":29.5,"m27":20.4,"m28":8.4,"m29":23.3,"m30":14.9,"m31":27.1,"m32":18.8,"m33":33.0,"m34":21.7,"m35":12.4,"m36":25.0},
      {"t":"2026-07-16T00:00:00Z","ctrl":10.0,"p50":14.7,"m1":16.0,"m2":21.5,"m3":30.3,"m4":8.3,"m5":12.9,"m6":16.9,"m7":22.9,"m8":33.0,"m9":9.4,"m10":13.6,"m11":18.0,"m12":24.4,"m13":3.0,"m14":10.4,"m15":14.3,"m16":19.1,"m17":26.0,"m18":5.3,"m19":11.2,"m20":15.1,"m21":20.2,"m22":27.9,"m23":7.1,"m24":12.1,"m25":11.7,"m26":27.0,"m27":14.7,"m28":4.2,"m29":18.6,"m30":9.9,"m31":23.7,"m32":13.3,"m33":31.7,"m34":16.5,"m35":7.7,"m36":20.9},
      {"t":"2026-07-16T06:00:00Z","ctrl":6.4,"p50":16.9,"m1":20.2,"m2":28.5,"m3":11.4,"m4":17.9,"m5":24.1,"m6":7.2,"m7":15.6,"m8":21.0,"m9":30.5,"m10":12.4,"m11":18.5,"m12":25.3,"m13":8.7,"m14":16.5,"m15":21.9,"m16":2.0,"m17":13.6,"m18":19.4,"m19":26.7,"m20":10.2,"m21":17.2,"m22":23.0,"m23":5.0,"m24":14.7,"m25":18.2,"m26":16.9,"m27":15.2,"m28":13.0,"m29":10.8,"m30":8.0,"m31":3.5,"m32":29.5,"m33":26.0,"m34":23.6,"m35":21.5,"m36":19.8},
      {"t":"2026-07-16T12:00:00Z","ctrl":1.1,"p50":17.8,"m1":4.0,"m2":12.7,"m3":17.4,"m4":22.3,"m5":29.4,"m6":6.8,"m7":13.7,"m8":18.2,"m9":23.4,"m10":31.3,"m11":8.8,"m12":14.8,"m13":19.1,"m14":24.7,"m15":33.7,"m16":10.2,"m17":15.7,"m18":20.0,"m19":26.2,"m20":36.5,"m21":11.6,"m22":16.6,"m23":21.2,"m24":27.7,"m25":21.8,"m26":5.4,"m27":17.8,"m28":30.4,"m29":14.3,"m30":24.1,"m31":9.5,"m32":19.6,"m33":35.1,"m34":16.2,"m35":27.0,"m36":12.2},
      {"t":"2026-07-16T18:00:00Z","ctrl":1.1,"p50":18.2,"m1":4.0,"m2":13.0,"m3":17.8,"m4":22.0,"m5":28.0,"m6":6.8,"m7":13.9,"m8":18.5,"m9":22.9,"m10":29.6,"m11":9.0,"m12":15.1,"m13":19.3,"m14":24.1,"m15":31.6,"m16":10.4,"m17":16.1,"m18":20.1,"m19":25.3,"m20":34.0,"m21":11.8,"m22":16.9,"m23":21.0,"m24":26.6,"m25":26.0,"m26":16.5,"m27":32.8,"m28":19.7,"m29":9.7,"m30":23.5,"m31":14.5,"m32":28.8,"m33":18.2,"m34":5.4,"m35":21.5,"m36":12.4},
      {"t":"2026-07-17T00:00:00Z","ctrl":3.1,"p50":15.6,"m1":9.8,"m2":15.3,"m3":22.0,"m4":5.0,"m5":13.3,"m6":18.7,"m7":28.1,"m8":10.8,"m9":16.0,"m10":23.4,"m11":7.1,"m12":14.0,"m13":19.8,"m14":30.4,"m15":11.7,"m16":16.8,"m17":24.8,"m18":8.7,"m19":14.7,"m20":20.8,"m21":33.0,"m22":12.4,"m23":17.7,"m24":26.4,"m25":14.4,"m26":15.7,"m27":17.3,"m28":19.3,"m29":21.4,"m30":24.1,"m31":27.3,"m32":31.7,"m33":6.1,"m34":9.3,"m35":11.3,"m36":12.9},
      {"t":"2026-07-17T06:00:00Z","ctrl":11.7,"p50":15.2,"m1":10.7,"m2":19.6,"m3":8.5,"m4":17.9,"m5":5.4,"m6":16.2,"m7":30.0,"m8":14.8,"m9":25.9,"m10":13.4,"m11":23.0,"m12":11.5,"m13":20.7,"m14":9.7,"m15":18.8,"m16":7.3,"m17":17.0,"m18":3.0,"m19":15.5,"m20":27.8,"m21":14.1,"m22":24.4,"m23":12.5,"m24":21.9,"m25":20.2,"m26":22.5,"m27":25.2,"m28":28.9,"m29":4.2,"m30":7.9,"m31":10.2,"m32":12.0,"m33":13.8,"m34":15.2,"m35":16.6,"m36":18.4},
      {"t":"2026-07-17T12:00:00Z","ctrl":20.0,"p50":18.5,"m1":8.4,"m2":21.7,"m3":11.5,"m4":23.5,"m5":13.9,"m6":25.7,"m7":16.2,"m8":28.2,"m9":18.0,"m10":32.0,"m11":19.5,"m12":6.1,"m13":20.9,"m14":10.0,"m15":22.6,"m16":12.8,"m17":24.6,"m18":15.1,"m19":26.9,"m20":17.1,"m21":30.0,"m22":18.8,"m23":3.0,"m24":20.1,"m25":14.5,"m26":12.2,"m27":9.2,"m28":4.6,"m29":31.0,"m30":27.6,"m31":25.2,"m32":23.1,"m33":21.3,"m34":19.8,"m35":18.4,"m36":16.7},
      {"t":"2026-07-17T18:00:00Z","ctrl":28.6,"p50":16.5,"m1":7.7,"m2":20.1,"m3":10.4,"m4":22.1,"m5":12.5,"m6":24.5,"m7":14.5,"m8":27.3,"m9":16.1,"m10":31.5,"m11":17.6,"m12":5.7,"m13":19.2,"m14":9.1,"m15":21.0,"m16":11.5,"m17":23.3,"m18":13.5,"m19":25.8,"m20":15.3,"m21":29.3,"m22":16.8,"m23":3.0,"m24":18.3,"m25":8.4,"m26":18.0,"m27":30.4,"m28":14.9,"m29":23.9,"m30":11.0,"m31":19.7,"m32":4.4,"m33":16.5,"m34":26.6,"m35":13.0,"m36":21.6},
      {"t":"2026-07-18T00:00:00Z","ctrl":23.9,"p50":14.7,"m1":11.6,"m2":5.5,"m3":25.0,"m4":19.0,"m5":15.0,"m6":10.4,"m7":3.3,"m8":23.6,"m9":18.1,"m10":14.3,"m11":9.5,"m12":0.5,"m13":22.3,"m14":17.3,"m15":13.4,"m16":8.3,"m17":29.0,"m18":21.1,"m19":16.4,"m20":12.6,"m21":6.9,"m22":26.9,"m23":20.0,"m24":15.7,"m25":11.0,"m26":24.3,"m27":14.7,"m28":1.9,"m29":17.7,"m30":8.9,"m31":21.7,"m32":13.0,"m33":28.0,"m34":16.1,"m35":6.2,"m36":19.5}
    ]
  },
  "layer": [
    {
      "data": {"name": "banden"},
      "mark": {"type": "rect", "fill": "#000000", "opacity": 0.075},
      "encoding": {
        "x": {
          "field": "van",
          "type": "temporal",
          "scale": {
            "type": "utc",
            "nice": false,
            "domain": [
              {"year": 2026, "month": 7, "date": 2, "hours": 18, "utc": true},
              {"year": 2026, "month": 7, "date": 18, "hours": 0, "utc": true}
            ]
          },
          "axis": {
            "title": null,
            "values": [
              {"year": 2026, "month": 7, "date": 4, "utc": true},
              {"year": 2026, "month": 7, "date": 5, "utc": true},
              {"year": 2026, "month": 7, "date": 6, "utc": true},
              {"year": 2026, "month": 7, "date": 7, "utc": true},
              {"year": 2026, "month": 7, "date": 8, "utc": true},
              {"year": 2026, "month": 7, "date": 9, "utc": true},
              {"year": 2026, "month": 7, "date": 10, "utc": true},
              {"year": 2026, "month": 7, "date": 11, "utc": true},
              {"year": 2026, "month": 7, "date": 12, "utc": true},
              {"year": 2026, "month": 7, "date": 13, "utc": true},
              {"year": 2026, "month": 7, "date": 14, "utc": true},
              {"year": 2026, "month": 7, "date": 15, "utc": true},
              {"year": 2026, "month": 7, "date": 16, "utc": true},
              {"year": 2026, "month": 7, "date": 17, "utc": true},
              {"year": 2026, "month": 7, "date": 18, "utc": true}
            ],
            "labelExpr": "[['zo','ma','di','wo','do','vr','za'][utcday(datum.value)], utcFormat(datum.value, '%d-%m')]",
            "grid": false,
            "domain": false,
            "ticks": true,
            "tickSize": 7,
            "tickWidth": 1.5,
            "tickColor": "#666666",
            "labelPadding": 5,
            "labelFont": "DejaVu Sans",
            "labelFontSize": 16.5,
            "labelColor": "#555555",
            "labelLineHeight": 22,
            "labelBaseline": "top",
            "labelFlush": false,
            "labelOverlap": false
          }
        },
        "x2": {"field": "tot"}
      }
    },
    {
      "data": {"name": "runs"},
      "transform": [
        {"fold": ["m1","m2","m3","m4","m5","m6","m7","m8","m9","m10","m11","m12","m13","m14","m15","m16","m17","m18","m19","m20","m21","m22","m23","m24","m25","m26","m27","m28","m29","m30","m31","m32","m33","m34","m35","m36"], "as": ["lid", "v"]}
      ],
      "mark": {"type": "line", "interpolate": "linear", "strokeWidth": 1.1, "opacity": 0.6},
      "encoding": {
        "x": {"field": "t", "type": "temporal"},
        "y": {
          "field": "v",
          "type": "quantitative",
          "scale": {"domain": [0, 45], "nice": false},
          "axis": {
            "orient": "left",
            "values": [0, 5, 10, 15, 20, 25, 30, 35, 40, 45],
            "grid": true,
            "gridColor": "#dddddd",
            "gridWidth": 1,
            "domain": false,
            "ticks": false,
            "labelPadding": 6,
            "labelFont": "DejaVu Sans",
            "labelFontSize": 16,
            "labelColor": "#555555",
            "title": "Gegenereerd door MeteoVPS (meteo-service.nl)",
            "titleAngle": 0,
            "titleAlign": "left",
            "titleBaseline": "middle",
            "titleX": -55,
            "titleY": 460,
            "titleFont": "DejaVu Sans",
            "titleFontSize": 13.5,
            "titleFontWeight": "normal",
            "titleColor": "#888888"
          }
        },
        "detail": {"field": "lid"},
        "color": {
          "datum": "Verstoorde runs",
          "type": "nominal",
          "scale": {"domain": ["Verstoorde runs"], "range": ["#2e9a48"]},
          "legend": {
            "title": null,
            "orient": "none",
            "legendX": 159,
            "legendY": 408,
            "symbolOpacity": 0.6,
            "symbolStrokeWidth": 1.2
          }
        }
      }
    },
    {
      "data": {"name": "runs"},
      "mark": {"type": "line", "interpolate": "linear", "color": "#8b0000", "strokeWidth": 3},
      "encoding": {
        "x": {"field": "t", "type": "temporal"},
        "y": {
          "field": "p50",
          "type": "quantitative",
          "axis": {
            "orient": "right",
            "values": [0, 5, 10, 15, 20, 25, 30, 35, 40, 45],
            "grid": false,
            "domain": true,
            "domainColor": "#dddddd",
            "domainWidth": 1,
            "ticks": false,
            "labelPadding": 8,
            "labelFont": "DejaVu Sans",
            "labelFontSize": 16,
            "labelColor": "#555555",
            "title": "Bron: ECMWF AIFS/KNMI Ens",
            "titleAngle": 0,
            "titleAlign": "right",
            "titleBaseline": "middle",
            "titleX": 57,
            "titleY": 460,
            "titleFont": "DejaVu Sans",
            "titleFontSize": 13.5,
            "titleFontWeight": "normal",
            "titleColor": "#888888"
          }
        },
        "strokeDash": {
          "datum": "Middelste (P50)",
          "type": "nominal",
          "scale": {"domain": ["Middelste (P50)"], "range": [[9, 5]]},
          "legend": {
            "title": null,
            "orient": "none",
            "legendX": 719,
            "legendY": 408,
            "symbolStrokeWidth": 3,
            "symbolStrokeColor": "#8b0000"
          }
        }
      }
    },
    {
      "data": {"name": "runs"},
      "mark": {"type": "line", "interpolate": "linear", "color": "#1a1a1a", "strokeDash": [10, 6]},
      "encoding": {
        "x": {"field": "t", "type": "temporal"},
        "y": {"field": "ctrl", "type": "quantitative", "axis": null},
        "strokeWidth": {
          "datum": "Controle",
          "type": "nominal",
          "scale": {"type": "ordinal", "domain": ["Controle"], "range": [3]},
          "legend": {
            "title": null,
            "orient": "none",
            "legendX": 372,
            "legendY": 408,
            "symbolDash": [10, 6],
            "symbolStrokeColor": "#1a1a1a"
          }
        }
      }
    },
    {
      "data": {"name": "runs"},
      "mark": {"type": "line", "interpolate": "linear", "color": "#ff0000", "strokeWidth": 3.5},
      "encoding": {
        "x": {"field": "t", "type": "temporal"},
        "y": {"field": "hres", "type": "quantitative", "axis": null},
        "opacity": {
          "datum": "Hoge resolutie",
          "type": "nominal",
          "scale": {"type": "ordinal", "domain": ["Hoge resolutie"], "range": [1]},
          "legend": {
            "title": null,
            "orient": "none",
            "legendX": 519,
            "legendY": 408,
            "symbolStrokeWidth": 3.5,
            "symbolStrokeColor": "#ff0000"
          }
        }
      }
    }
  ],
  "resolve": {"axis": {"y": "independent"}}
}
